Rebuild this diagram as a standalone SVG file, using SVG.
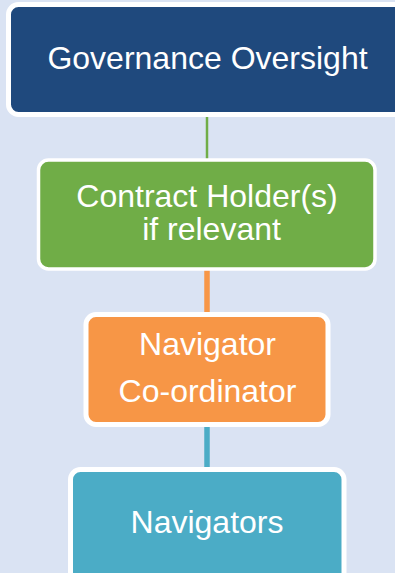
<svg xmlns="http://www.w3.org/2000/svg" width="395" height="573" viewBox="0 0 395 573">
<style>
.box{stroke:#FFFFFF;}
.t{font-family:"Liberation Sans",Arial,sans-serif;font-size:32px;fill:#FFFFFF;text-anchor:middle;}
</style>
<rect x="0" y="0" width="395" height="573" fill="#DAE3F3"/>
<g id="connectors">
<line x1="207" y1="115" x2="207" y2="160" stroke="#70AD47" stroke-width="2.5"/>
<line x1="207" y1="269" x2="207" y2="315" stroke="#F79646" stroke-width="5.5"/>
<line x1="207" y1="425" x2="207" y2="470" stroke="#4BACC6" stroke-width="5.5"/>
</g>
<g id="governance">
<rect class="box" x="8.5" y="4.5" width="410" height="110" rx="10" fill="#1F497D" stroke-width="5"/>
<text class="t" x="207.5" y="69">Governance Oversight</text>
</g>
<g id="contract-holders">
<rect class="box" x="38.5" y="160" width="336.5" height="109" rx="10" fill="#70AD47" stroke-width="3.5"/>
<text class="t" x="207" y="207">Contract Holder(s)</text>
<text class="t" x="211.5" y="240">if relevant</text>
</g>
<g id="coordinator">
<rect class="box" x="86" y="314.5" width="242" height="110" rx="10" fill="#F79646" stroke-width="5"/>
<text class="t" x="207.5" y="355">Navigator</text>
<text class="t" x="207.5" y="402">Co-ordinator</text>
</g>
<g id="navigators">
<rect class="box" x="70.5" y="469.5" width="273.5" height="130" rx="10" fill="#4BACC6" stroke-width="5"/>
<text class="t" x="207" y="533">Navigators</text>
</g>
</svg>
